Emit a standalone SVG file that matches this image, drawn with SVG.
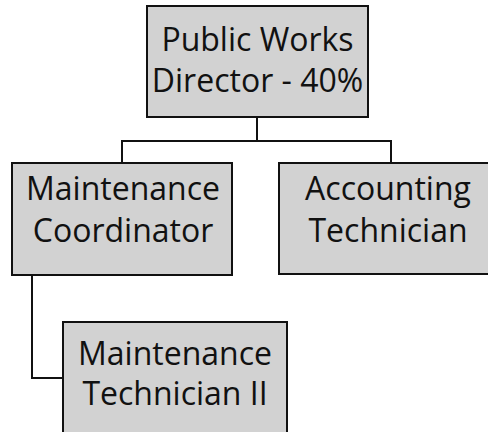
<svg xmlns="http://www.w3.org/2000/svg" width="488" height="432" viewBox="0 0 488 432">
<style>
.box{fill:#d2d2d2;stroke:#111;stroke-width:2}
.lbl{font-family:"Open Sans","Noto Sans",sans-serif;font-size:32px;fill:#111;text-anchor:middle}
.conn{fill:none;stroke:#111;stroke-width:2}
</style>
<rect width="488" height="432" fill="#fff"/>
<g id="connectors">
<path class="conn" d="M257 117V141M122 163V141H391V163"/>
<path class="conn" d="M32 275V378H63"/>
</g>
<g id="director">
<rect class="box" x="147" y="6" width="221" height="111"/>
<text class="lbl" x="257.5" y="51">Public Works</text>
<text class="lbl" x="257.5" y="92">Director - 40%</text>
</g>
<g id="coordinator">
<rect class="box" x="12" y="163" width="220" height="112"/>
<text class="lbl" x="123" y="200">Maintenance</text>
<text class="lbl" x="123" y="242">Coordinator</text>
</g>
<g id="accounting">
<rect class="box" x="279" y="163" width="216" height="111"/>
<text class="lbl" x="388" y="200">Accounting</text>
<text class="lbl" x="388" y="242">Technician</text>
</g>
<g id="technician2">
<rect class="box" x="63" y="322" width="224" height="120"/>
<text class="lbl" x="175" y="365">Maintenance</text>
<text class="lbl" x="175" y="405">Technician II</text>
</g>
</svg>
